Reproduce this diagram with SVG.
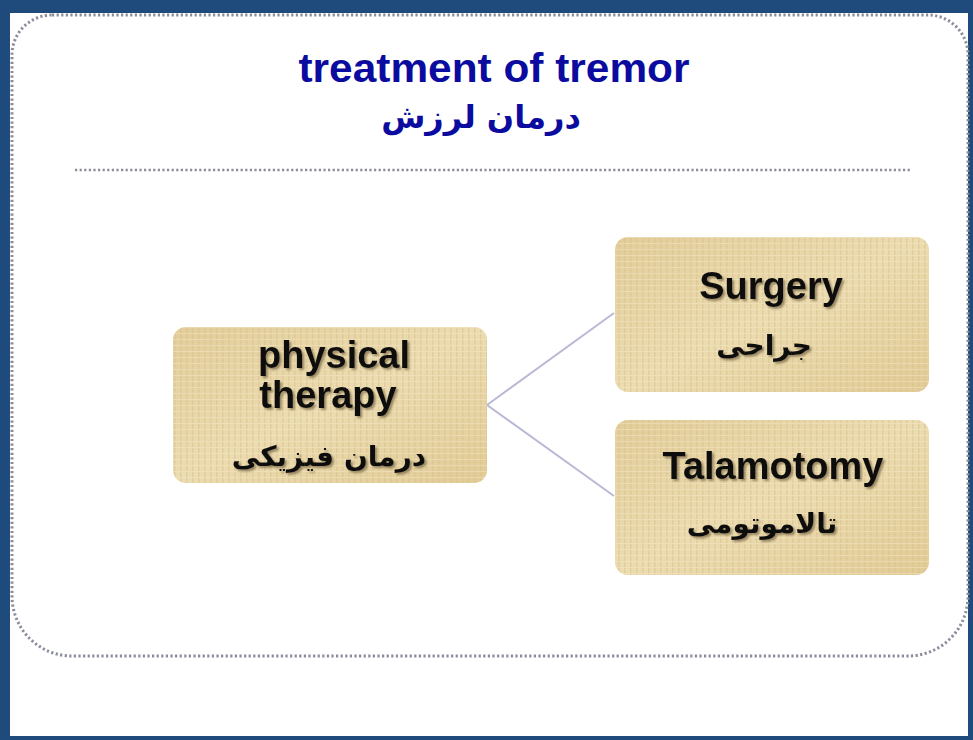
<svg xmlns="http://www.w3.org/2000/svg" width="973" height="740" viewBox="0 0 973 740">
<style>
.frame{fill:none;stroke:#8a8d9c;stroke-width:3;stroke-dasharray:2.2 2.4}
.sep{fill:none;stroke:#8a8d9c;stroke-width:2.6;stroke-dasharray:2.2 2.4}
.title{font-family:"Liberation Sans",Arial,sans-serif;font-weight:bold;fill:#0b0ba0;text-anchor:middle}
.titlefa{font-family:"DejaVu Sans","Liberation Sans",sans-serif;font-weight:bold;fill:#0b0ba0;text-anchor:middle}
.box{fill:url(#papyrusGrad);stroke:none}
.weave{fill:url(#weave);stroke:none;opacity:0.5}
.en{font-family:"Liberation Sans",Arial,sans-serif;font-weight:bold;font-size:38px;fill:#111;text-anchor:middle;filter:url(#shadow)}
.fa{font-family:"DejaVu Sans","Liberation Sans",sans-serif;font-weight:bold;font-size:28px;fill:#111;text-anchor:middle;filter:url(#shadow)}
.conn{stroke:#b9b9d6;stroke-width:2;fill:none}
</style>
<defs>
<pattern id="weave" width="6" height="6" patternUnits="userSpaceOnUse">
<rect x="0" y="0" width="1.5" height="6" fill="#d6c08a"/>
<rect x="0" y="3" width="6" height="1" fill="#f2e4bf"/>
</pattern>
<linearGradient id="papyrusGrad" x1="0" y1="0" x2="1" y2="1">
<stop offset="0" stop-color="#e2cd9a"/>
<stop offset="0.5" stop-color="#ecdcb1"/>
<stop offset="1" stop-color="#e1cb96"/>
</linearGradient>
<filter id="shadow" x="-10%" y="-20%" width="125%" height="150%">
<feDropShadow dx="2" dy="2" stdDeviation="1.2" flood-color="#6b5a3a" flood-opacity="0.65"/>
</filter>
</defs>
<rect x="0" y="0" width="973" height="740" fill="#1f4a7c"/>
<rect x="10" y="13" width="958" height="723" fill="#ffffff"/>
<path class="frame" d="M52 15 H928 A40 40 0 0 1 968 55 V596 A60 60 0 0 1 908 656 H72 A60 60 0 0 1 12 596 V55 A40 40 0 0 1 52 15 Z"/>
<g id="title">
<text class="title" x="494" y="82" font-size="40" textLength="391" lengthAdjust="spacingAndGlyphs">treatment of tremor</text>
<text class="titlefa" x="481" y="128" font-size="32" direction="rtl">درمان لرزش</text>
</g>
<line class="sep" x1="75" y1="170" x2="912" y2="170"/>
<g id="connectors">
<line class="conn" x1="487" y1="405" x2="614" y2="313"/>
<line class="conn" x1="487" y1="405" x2="614" y2="496"/>
</g>
<g id="node-physical">
<rect class="box" x="173" y="327" width="314" height="156" rx="13"/>
<rect class="weave" x="173" y="327" width="314" height="156" rx="13"/>
<text class="en" x="334" y="368">physical</text>
<text class="en" x="328" y="408">therapy</text>
<text class="fa" x="329" y="466" direction="rtl">درمان فیزیکی</text>
</g>
<g id="node-surgery">
<rect class="box" x="615" y="237" width="314" height="155" rx="13"/>
<rect class="weave" x="615" y="237" width="314" height="155" rx="13"/>
<text class="en" x="771" y="299">Surgery</text>
<text class="fa" x="764" y="355" direction="rtl">جراحی</text>
</g>
<g id="node-talamotomy">
<rect class="box" x="615" y="420" width="314" height="155" rx="13"/>
<rect class="weave" x="615" y="420" width="314" height="155" rx="13"/>
<text class="en" x="773" y="479">Talamotomy</text>
<text class="fa" x="762" y="533" direction="rtl">تالاموتومی</text>
</g>
</svg>
